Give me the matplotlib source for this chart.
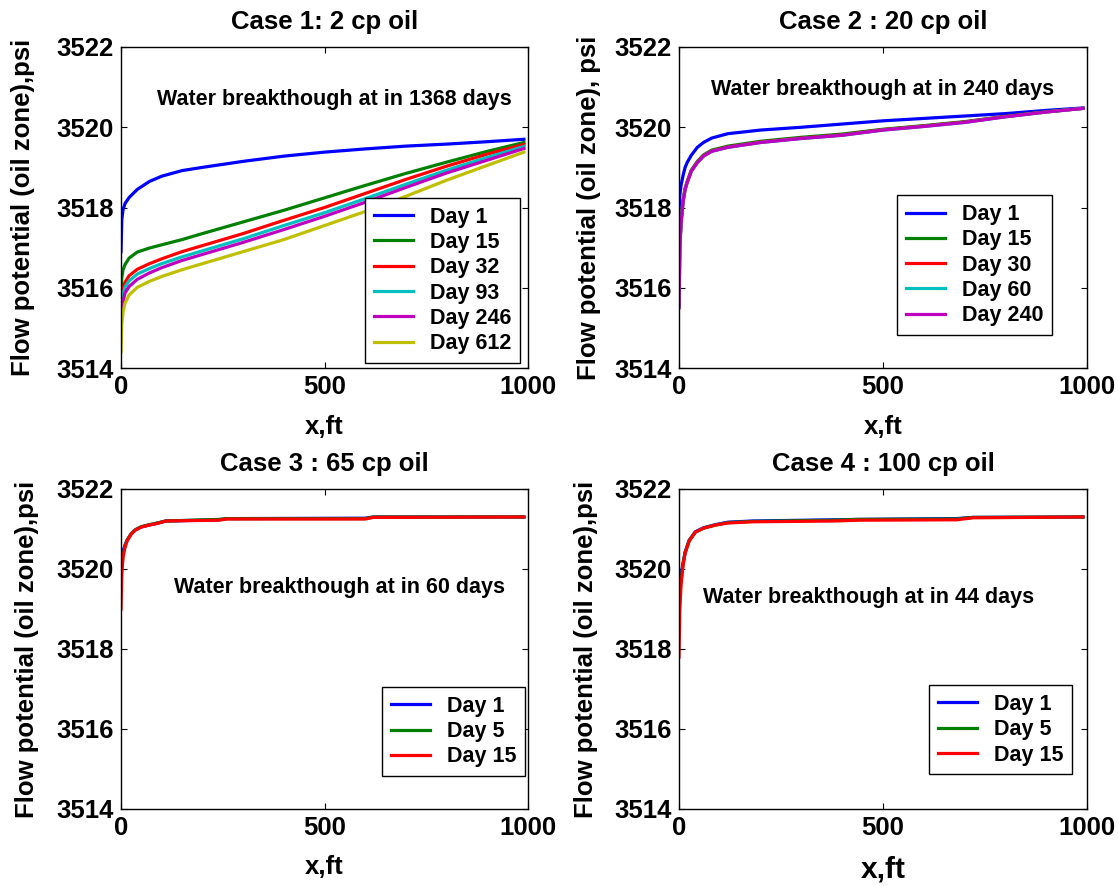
#!/usr/bin/env python3
import matplotlib
matplotlib.use("Agg")
import matplotlib.pyplot as plt

plt.rcParams["font.family"] = ["Liberation Sans", "DejaVu Sans"]
plt.rcParams["font.weight"] = "bold"

# MATLAB-style line colours
BLUE = (0, 0, 1)
GREEN = (0, 0.5, 0)
RED = (1, 0, 0)
CYAN = (0, 0.75, 0.75)
MAGENTA = (0.75, 0, 0.75)
YELLOW = (0.75, 0.75, 0)

# --- Case 1: 2 cp oil ---
x_case1 = [0, 2, 5, 10, 20, 40, 70, 100, 150, 200, 300, 400, 500, 600, 700, 800, 900, 990]
case1_day1 = [3516.9, 3517.7, 3517.95, 3518.1, 3518.25, 3518.45, 3518.65, 3518.78, 3518.92,
              3519.0, 3519.15, 3519.28, 3519.38, 3519.46, 3519.53, 3519.58, 3519.64, 3519.7]
case1_day15 = [3515.85, 3516.25, 3516.45, 3516.58, 3516.74, 3516.89, 3516.99, 3517.07, 3517.2,
               3517.35, 3517.64, 3517.93, 3518.24, 3518.55, 3518.85, 3519.13, 3519.4, 3519.62]
case1_day32 = [3515.5, 3515.8, 3516.0, 3516.14, 3516.3, 3516.46, 3516.6, 3516.72, 3516.9,
               3517.05, 3517.35, 3517.68, 3518.0, 3518.35, 3518.7, 3519.03, 3519.33, 3519.57]
case1_day93 = [3515.4, 3515.65, 3515.85, 3516.02, 3516.17, 3516.34, 3516.48, 3516.6, 3516.77,
               3516.92, 3517.22, 3517.55, 3517.87, 3518.22, 3518.58, 3518.93, 3519.25, 3519.52]
case1_day246 = [3515.2, 3515.45, 3515.65, 3515.87, 3516.03, 3516.21, 3516.37, 3516.5, 3516.68,
                3516.83, 3517.13, 3517.45, 3517.78, 3518.13, 3518.5, 3518.86, 3519.18, 3519.47]
case1_day612 = [3514.4, 3515.1, 3515.4, 3515.62, 3515.82, 3516.01, 3516.16, 3516.28, 3516.45,
                3516.6, 3516.9, 3517.2, 3517.55, 3517.9, 3518.28, 3518.68, 3519.05, 3519.38]

# --- Case 2: 20 cp oil ---
x_case2 = [0, 2, 5, 10, 15, 20, 30, 45, 60, 80, 120, 200, 300, 400, 500, 600, 700, 800, 900, 990]
case2_day1 = [3517.9, 3518.3, 3518.55, 3518.8, 3519.0, 3519.12, 3519.3, 3519.5, 3519.62, 3519.73,
              3519.84, 3519.93, 3520.0, 3520.08, 3520.16, 3520.22, 3520.28, 3520.34, 3520.42, 3520.48]
case2_day15 = [3515.6, 3517.05, 3517.65, 3518.18, 3518.48, 3518.65, 3518.93, 3519.15, 3519.31, 3519.43,
               3519.53, 3519.65, 3519.75, 3519.83, 3519.95, 3520.04, 3520.14, 3520.27, 3520.39, 3520.47]
case2_day30 = [3515.55, 3517.02, 3517.62, 3518.16, 3518.46, 3518.63, 3518.91, 3519.13, 3519.29, 3519.41,
               3519.51, 3519.63, 3519.73, 3519.81, 3519.94, 3520.03, 3520.13, 3520.27, 3520.38, 3520.47]
case2_day60 = [3515.5, 3517.0, 3517.6, 3518.15, 3518.45, 3518.62, 3518.9, 3519.12, 3519.28, 3519.4,
               3519.5, 3519.62, 3519.72, 3519.8, 3519.93, 3520.02, 3520.12, 3520.26, 3520.38, 3520.47]
case2_day240 = [3515.5, 3517.0, 3517.6, 3518.15, 3518.45, 3518.62, 3518.9, 3519.12, 3519.28, 3519.4,
                3519.5, 3519.62, 3519.72, 3519.8, 3519.93, 3520.02, 3520.12, 3520.26, 3520.38, 3520.47]

# --- Case 3: 65 cp oil ---
x_case3 = [0, 2, 5, 10, 15, 25, 35, 50, 70, 90, 110, 240, 260, 600, 620, 990]
case3_day1 = [3520.3, 3520.35, 3520.45, 3520.6, 3520.72, 3520.88, 3520.98, 3521.05, 3521.1, 3521.15,
              3521.2, 3521.23, 3521.26, 3521.27, 3521.3, 3521.3]
case3_day5 = [3519.6, 3520.0, 3520.35, 3520.58, 3520.72, 3520.88, 3520.98, 3521.06, 3521.11, 3521.15,
              3521.2, 3521.24, 3521.26, 3521.26, 3521.3, 3521.3]
case3_day15 = [3519.0, 3519.9, 3520.3, 3520.55, 3520.7, 3520.87, 3520.97, 3521.05, 3521.1, 3521.14,
               3521.2, 3521.22, 3521.25, 3521.25, 3521.29, 3521.3]

# --- Case 4: 100 cp oil ---
x_case4 = [0, 2, 5, 10, 15, 25, 40, 60, 90, 120, 180, 380, 440, 680, 720, 990]
case4_day1 = [3519.3, 3519.6, 3519.85, 3520.15, 3520.42, 3520.72, 3520.93, 3521.03, 3521.11, 3521.17,
              3521.2, 3521.23, 3521.24, 3521.26, 3521.29, 3521.3]
case4_day5 = [3518.6, 3519.3, 3519.7, 3520.12, 3520.41, 3520.71, 3520.92, 3521.02, 3521.1, 3521.16,
              3521.19, 3521.22, 3521.24, 3521.25, 3521.29, 3521.3]
case4_day15 = [3517.8, 3519.0, 3519.6, 3520.1, 3520.4, 3520.7, 3520.92, 3521.02, 3521.1, 3521.15,
               3521.18, 3521.2, 3521.22, 3521.23, 3521.28, 3521.3]

YTICKS = [3514, 3516, 3518, 3520, 3522]
XTICKS = [0, 500, 1000]


def draw_panel(ax, x, series, title, ylabel, note, note_xy, legend_anchor,
               ylabel_x, xlabel_size=18.5):
    for y, label, color in series:
        ax.plot(x, y, color=color, lw=2.3, label=label)
    ax.set_xlim(0, 1000)
    ax.set_ylim(3514, 3522)
    ax.set_xticks(XTICKS)
    ax.set_yticks(YTICKS)
    ax.tick_params(direction="in", top=True, right=True, length=4, width=0.8,
                   labelsize=18.5, pad=5)
    for sp in ax.spines.values():
        sp.set_linewidth(1.0)
    ax.set_title(title, fontsize=18.5, fontweight="bold", pad=13)
    ax.set_ylabel(ylabel, fontsize=18.5, fontweight="bold")
    ax.yaxis.set_label_coords(ylabel_x, 0.5)
    ax.set_xlabel("x,ft", fontsize=xlabel_size, fontweight="bold")
    ax.xaxis.set_label_coords(0.5, -0.145)
    ax.text(note_xy[0], note_xy[1], note, fontsize=15.5, fontweight="bold",
            va="center", ha="left")
    leg = ax.legend(loc="lower right", bbox_to_anchor=legend_anchor,
                    borderaxespad=0, fancybox=False, edgecolor="black",
                    framealpha=1, fontsize=15.5, handlelength=1.8,
                    handletextpad=0.8, labelspacing=0.2, borderpad=0.4)
    leg.get_frame().set_linewidth(1.0)


def main():
    fig = plt.figure(figsize=(11.19, 8.86), dpi=100)
    W, H = 1119, 886

    def axes_px(left, top, right, bottom):
        return fig.add_axes([left / W, 1 - bottom / H, (right - left) / W, (bottom - top) / H])

    ax1 = axes_px(121, 47, 528, 368)
    ax2 = axes_px(679, 47, 1087, 368)
    ax3 = axes_px(121, 489, 528, 809)
    ax4 = axes_px(679, 489, 1087, 809)

    draw_panel(ax1, x_case1,
               [(case1_day1, "Day 1", BLUE), (case1_day15, "Day 15", GREEN),
                (case1_day32, "Day 32", RED), (case1_day93, "Day 93", CYAN),
                (case1_day246, "Day 246", MAGENTA), (case1_day612, "Day 612", YELLOW)],
               "Case 1: 2 cp oil", "Flow potential (oil zone),psi",
               "Water breakthough at in 1368 days", (88, 3520.68),
               (0.98, 0.016), -0.211)

    draw_panel(ax2, x_case2,
               [(case2_day1, "Day 1", BLUE), (case2_day15, "Day 15", GREEN),
                (case2_day30, "Day 30", RED), (case2_day60, "Day 60", CYAN),
                (case2_day240, "Day 240", MAGENTA)],
               "Case 2 : 20 cp oil", "Flow potential (oil zone), psi",
               "Water breakthough at in 240 days", (78, 3520.93),
               (0.914, 0.103), -0.191)

    draw_panel(ax3, x_case3,
               [(case3_day1, "Day 1", BLUE), (case3_day5, "Day 5", GREEN),
                (case3_day15, "Day 15", RED)],
               "Case 3 : 65 cp oil", "Flow potential (oil zone),psi",
               "Water breakthough at in 60 days", (130, 3519.55),
               (0.993, 0.103), -0.201)

    draw_panel(ax4, x_case4,
               [(case4_day1, "Day 1", BLUE), (case4_day5, "Day 5", GREEN),
                (case4_day15, "Day 15", RED)],
               "Case 4 : 100 cp oil", "Flow potential (oil zone),psi",
               "Water breakthough at in 44 days", (59, 3519.28),
               (0.963, 0.109), -0.199, xlabel_size=21.5)

    fig.savefig("out.png", dpi=100)
    plt.close(fig)


if __name__ == "__main__":
    main()
